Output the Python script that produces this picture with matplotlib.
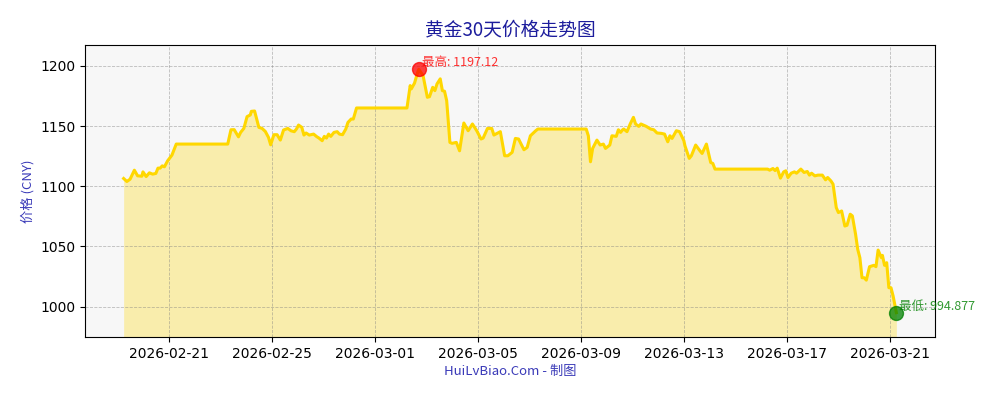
import pandas as pd
import matplotlib
matplotlib.use("Agg")
import matplotlib.pyplot as plt
import matplotlib.dates as mdates

cjk = ['Noto Sans CJK SC', 'DejaVu Sans']

# hourly-ish readings of the gold price (CNY / gram)
times = [
    "2026-02-19 06:00", "2026-02-19 09:00", "2026-02-19 12:00", "2026-02-19 16:00", "2026-02-19 19:00",
    "2026-02-19 23:00", "2026-02-20 00:00", "2026-02-20 03:00", "2026-02-20 06:00", "2026-02-20 09:00",
    "2026-02-20 12:00", "2026-02-20 14:00", "2026-02-20 16:00", "2026-02-20 18:00", "2026-02-20 20:00",
    "2026-02-20 23:00", "2026-02-21 03:00", "2026-02-21 07:00", "2026-02-23 07:00", "2026-02-23 10:00",
    "2026-02-23 13:00", "2026-02-23 17:00", "2026-02-23 19:00", "2026-02-23 22:00", "2026-02-24 01:00",
    "2026-02-24 04:00", "2026-02-24 05:00", "2026-02-24 08:00", "2026-02-24 12:00", "2026-02-24 15:00",
    "2026-02-24 18:00", "2026-02-24 21:00", "2026-02-24 23:00", "2026-02-25 02:00", "2026-02-25 05:00",
    "2026-02-25 08:00", "2026-02-25 11:00", "2026-02-25 15:00", "2026-02-25 18:00", "2026-02-25 21:00",
    "2026-02-25 23:00", "2026-02-26 01:00", "2026-02-26 04:00", "2026-02-26 06:00", "2026-02-26 08:00",
    "2026-02-26 11:00", "2026-02-26 15:00", "2026-02-26 18:00", "2026-02-26 20:00", "2026-02-26 23:00",
    "2026-02-27 01:00", "2026-02-27 03:00", "2026-02-27 05:00", "2026-02-27 07:00", "2026-02-27 10:00",
    "2026-02-27 13:00", "2026-02-27 15:00", "2026-02-27 18:00", "2026-02-27 21:00", "2026-02-27 23:00",
    "2026-02-28 02:00", "2026-02-28 04:00", "2026-02-28 07:00", "2026-03-02 06:00", "2026-03-02 09:00",
    "2026-03-02 10:00", "2026-03-02 13:00", "2026-03-02 16:00", "2026-03-02 17:00", "2026-03-02 21:00",
    "2026-03-03 01:00", "2026-03-03 03:00", "2026-03-03 06:00", "2026-03-03 08:00", "2026-03-03 10:00",
    "2026-03-03 13:00", "2026-03-03 15:00", "2026-03-03 17:00", "2026-03-03 19:00", "2026-03-03 22:00",
    "2026-03-04 00:00", "2026-03-04 04:00", "2026-03-04 07:00", "2026-03-04 11:00", "2026-03-04 15:00",
    "2026-03-04 19:00", "2026-03-04 23:00", "2026-03-05 03:00", "2026-03-05 05:00", "2026-03-05 09:00",
    "2026-03-05 13:00", "2026-03-05 15:00", "2026-03-05 18:00", "2026-03-05 21:00", "2026-03-06 01:00",
    "2026-03-06 04:00", "2026-03-06 08:00", "2026-03-06 11:00", "2026-03-06 14:00", "2026-03-06 19:00",
    "2026-03-06 22:00", "2026-03-07 01:00", "2026-03-07 06:00", "2026-03-07 08:00", "2026-03-09 05:00",
    "2026-03-09 07:00", "2026-03-09 09:00", "2026-03-09 11:00", "2026-03-09 15:00", "2026-03-09 18:00",
    "2026-03-09 21:00", "2026-03-09 23:00", "2026-03-10 03:00", "2026-03-10 05:00", "2026-03-10 09:00",
    "2026-03-10 11:00", "2026-03-10 13:00", "2026-03-10 15:00", "2026-03-10 16:00", "2026-03-10 19:00",
    "2026-03-10 22:00", "2026-03-11 01:00", "2026-03-11 03:00", "2026-03-11 06:00", "2026-03-11 08:00",
    "2026-03-11 13:00", "2026-03-11 17:00", "2026-03-11 20:00", "2026-03-11 23:00", "2026-03-12 03:00",
    "2026-03-12 06:00", "2026-03-12 09:00", "2026-03-12 11:00", "2026-03-12 13:00", "2026-03-12 17:00",
    "2026-03-12 20:00", "2026-03-13 00:00", "2026-03-13 01:00", "2026-03-13 05:00", "2026-03-13 07:00",
    "2026-03-13 11:00", "2026-03-13 15:00", "2026-03-13 17:00", "2026-03-13 21:00", "2026-03-14 01:00",
    "2026-03-14 03:00", "2026-03-14 05:00", "2026-03-16 06:00", "2026-03-16 08:00", "2026-03-16 11:00",
    "2026-03-16 13:00", "2026-03-16 15:00", "2026-03-16 18:00", "2026-03-16 21:00", "2026-03-16 23:00",
    "2026-03-17 01:00", "2026-03-17 04:00", "2026-03-17 07:00", "2026-03-17 09:00", "2026-03-17 13:00",
    "2026-03-17 16:00", "2026-03-17 19:00", "2026-03-17 21:00", "2026-03-17 23:00", "2026-03-18 02:00",
    "2026-03-18 05:00", "2026-03-18 09:00", "2026-03-18 12:00", "2026-03-18 14:00", "2026-03-18 17:00",
    "2026-03-18 19:00", "2026-03-18 22:00", "2026-03-19 00:00", "2026-03-19 03:00", "2026-03-19 06:00",
    "2026-03-19 08:00", "2026-03-19 11:00", "2026-03-19 13:00", "2026-03-19 16:00", "2026-03-19 18:00",
    "2026-03-19 20:00", "2026-03-19 22:00", "2026-03-20 00:00", "2026-03-20 02:00", "2026-03-20 05:00",
    "2026-03-20 09:00", "2026-03-20 11:00", "2026-03-20 13:00", "2026-03-20 16:00", "2026-03-20 17:00",
    "2026-03-20 19:00", "2026-03-20 21:00", "2026-03-20 23:00", "2026-03-21 01:00", "2026-03-21 03:00",
    "2026-03-21 06:00",
]
prices = [
    1106.4, 1103.9, 1105.8, 1113.3, 1108.6, 1108.3, 1111.9, 1108.0, 1111.1, 1110.0,
    1110.6, 1115.0, 1115.0, 1116.9, 1116.1, 1121.1, 1125.8, 1135.0, 1135.0, 1146.9,
    1147.0, 1141.0, 1144.7, 1148.0, 1157.8, 1159.2, 1162.2, 1162.5, 1148.9, 1148.0,
    1145.5, 1140.5, 1134.4, 1142.8, 1142.8, 1138.3, 1146.7, 1148.0, 1146.0, 1145.3,
    1147.5, 1150.8, 1148.9, 1142.5, 1144.2, 1142.5, 1143.3, 1141.1, 1140.0, 1137.8,
    1141.4, 1140.0, 1143.3, 1141.4, 1144.7, 1145.3, 1143.3, 1142.8, 1147.5, 1153.0,
    1155.8, 1155.8, 1165.0, 1165.0, 1183.6, 1180.8, 1185.6, 1194.7, 1197.12, 1191.9,
    1173.9, 1174.4, 1182.2, 1179.4, 1185.0, 1189.2, 1179.4, 1178.9, 1171.1, 1136.4,
    1135.6, 1136.4, 1129.4, 1152.5, 1146.1, 1151.7, 1146.1, 1139.2, 1140.0, 1148.0,
    1148.0, 1142.5, 1143.9, 1145.3, 1125.3, 1125.3, 1128.1, 1139.7, 1139.2, 1130.3,
    1132.2, 1141.9, 1146.1, 1147.5, 1147.5, 1141.9, 1120.3, 1131.4, 1138.3, 1134.2,
    1135.0, 1131.4, 1134.2, 1141.9, 1141.4, 1146.9, 1144.7, 1146.9, 1147.5, 1145.3,
    1151.7, 1157.2, 1151.7, 1149.7, 1151.7, 1149.7, 1147.5, 1146.9, 1144.2, 1143.9,
    1143.3, 1136.9, 1141.9, 1139.7, 1146.1, 1145.3, 1137.8, 1133.6, 1123.1, 1125.3,
    1134.2, 1129.4, 1127.2, 1135.0, 1119.7, 1118.9, 1114.2, 1114.2, 1113.3, 1114.7,
    1113.0, 1115.0, 1106.7, 1111.9, 1112.8, 1107.2, 1110.8, 1111.9, 1110.8, 1114.2,
    1111.4, 1112.2, 1109.2, 1110.8, 1108.6, 1109.2, 1109.2, 1105.3, 1107.2, 1104.4,
    1101.7, 1082.2, 1078.1, 1079.4, 1066.9, 1067.5, 1076.7, 1075.3, 1060.0, 1047.5,
    1040.6, 1023.9, 1023.9, 1021.9, 1033.1, 1034.2, 1033.1, 1046.9, 1040.6, 1042.5,
    1034.2, 1036.4, 1015.6, 1015.6, 1008.6, 994.877,
]
tick_days = pd.date_range("2026-02-21", "2026-03-21", freq="4D")

df = pd.DataFrame({"t": pd.to_datetime(times), "p": prices})
hi = df.loc[df.p.idxmax()]
lo = df.loc[df.p.idxmin()]

fig = plt.figure(figsize=(10, 4), dpi=100)
ax = fig.add_axes([0.085, 0.1575, 0.85, 0.73])
ax.set_facecolor("#f7f7f7")

pad = (df.p.max() - df.p.min()) * 0.1
ymin, ymax = df.p.min() - pad, df.p.max() + pad

ax.plot(df.t, df.p, color="#FFD700", lw=2.2)
ax.fill_between(df.t, df.p, ymin, color="#FFD700", alpha=0.3, lw=0)
ax.set_ylim(ymin, ymax)

ax.scatter([hi.t], [hi.p], s=100, color="red", alpha=0.75, zorder=5)
ax.scatter([lo.t], [lo.p], s=100, color="green", alpha=0.75, zorder=5)
ax.annotate(f"最高: {hi.p:g}", (hi.t, hi.p), xytext=(2, 0), textcoords="offset points",
            color="red", alpha=0.8, fontsize=9, va="bottom", family=cjk)
ax.annotate(f"最低: {lo.p:g}", (lo.t, lo.p), xytext=(2, 0), textcoords="offset points",
            color="green", alpha=0.8, fontsize=9, va="bottom", family=cjk)

ax.set_xticks(tick_days)
ax.xaxis.set_major_formatter(mdates.DateFormatter("%Y-%m-%d"))
ax.set_yticks([1000, 1050, 1100, 1150, 1200])
ax.tick_params(labelsize=10)
ax.grid(True, ls="--", color="gray", alpha=0.5, lw=0.6)

ax.set_title("黄金30天价格走势图", family=cjk, fontsize=13.5, color="#1c1c9c", pad=7)
ax.set_ylabel("价格 (CNY)", family=cjk, fontsize=9.5, color="#3a3ab8")
ax.set_xlabel("HuiLvBiao.Com - 制图", family=cjk, fontsize=9.5, color="#3a3ab8", labelpad=3)

fig.savefig("out.png", dpi=100)
